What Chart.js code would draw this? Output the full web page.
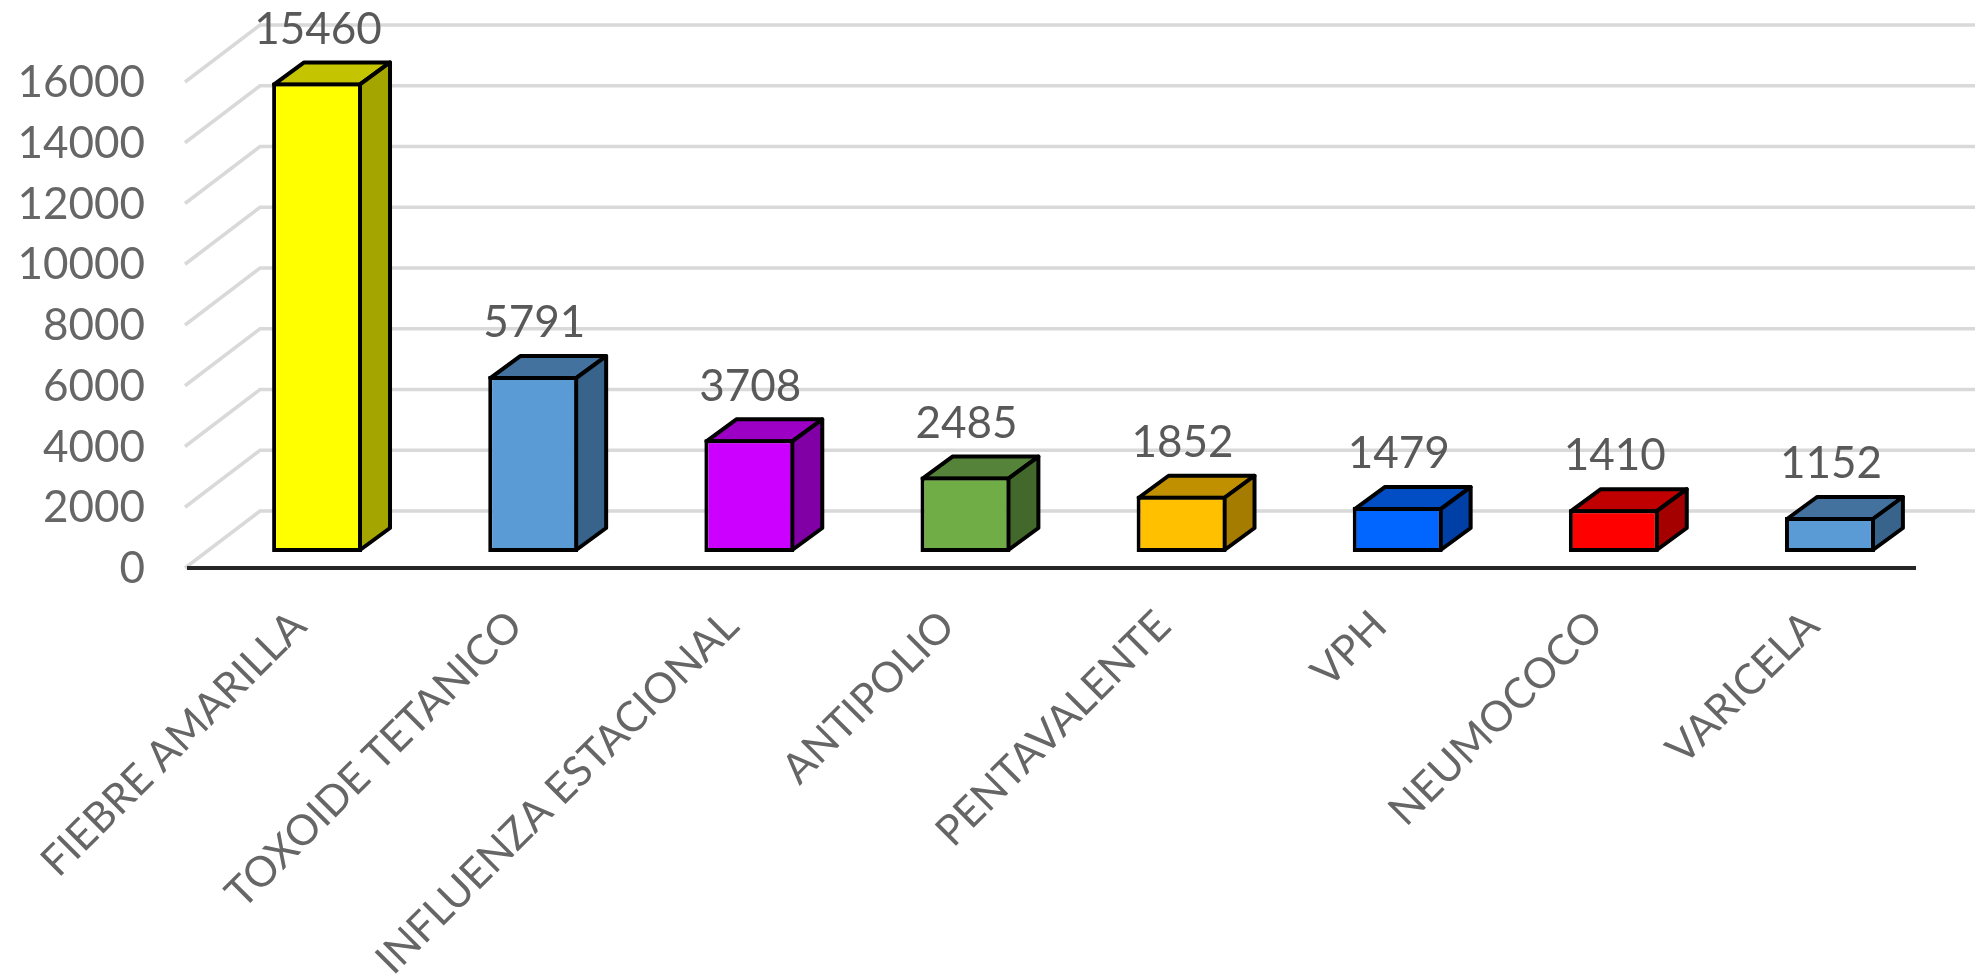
<!DOCTYPE html>
<html>
<head>
<meta charset="utf-8">
<title>Vacunas</title>
<script src="https://cdn.jsdelivr.net/npm/chart.js@4/dist/chart.umd.min.js"></script>
<style>
  html, body { margin: 0; padding: 0; background: #fff; overflow: hidden; }
  canvas { display: block; }
</style>
</head>
<body>
<canvas id="grafico" width="1975" height="978"></canvas>
<script>
const categorias = ['FIEBRE AMARILLA', 'TOXOIDE TETANICO', 'INFLUENZA ESTACIONAL', 'ANTIPOLIO', 'PENTAVALENTE', 'VPH', 'NEUMOCOCO', 'VARICELA'];
const valores = [15460, 5791, 3708, 2485, 1852, 1479, 1410, 1152];
const marcasY = [0, 2000, 4000, 6000, 8000, 10000, 12000, 14000, 16000];

const coresFrente = ['#FFFF00', '#5B9BD5', '#CC00FF', '#70AD47', '#FFC000', '#0066FF', '#FF0000', '#5B9BD5'];
const coresTopo = ['#C4C400', '#44729F', '#9C00C4', '#55833A', '#C09000', '#004DC4', '#C00000', '#44729F'];
const coresLado = ['#A5A500', '#38648C', '#8000A5', '#43682B', '#A67C00', '#003FA5', '#A50000', '#38648C'];

// profundidade das barras e das paredes do grafico (efeito 3D)
const barraDx = 30, barraDy = 22;
const fundoDx = 45, fundoDy = -41;
const frenteDx = -30, frenteDy = 16;

const efeito3D = {
    id: 'efeito3D',
    beforeDatasetsDraw(chart) {
        const ctx = chart.ctx;
        const y = chart.scales.y;
        const esquerda = y.right + frenteDx + 6;
        const xFundo = y.right + fundoDx + 6;

        // linhas de grade
        ctx.save();
        ctx.strokeStyle = '#D9D9D9';
        ctx.lineWidth = 3.5;
        marcasY.forEach(function (m) {
            const py = y.getPixelForValue(m);
            ctx.beginPath();
            ctx.moveTo(esquerda, py + frenteDy);
            ctx.lineTo(xFundo, py + fundoDy);
            ctx.lineTo(chart.width, py + fundoDy);
            ctx.stroke();
        });

        // topo e lado de cada barra
        ctx.strokeStyle = '#000';
        ctx.lineWidth = 4;
        ctx.lineJoin = 'round';
        chart.getDatasetMeta(0).data.forEach(function (barra, i) {
            const e = barra.x - barra.width / 2 + 2;
            const d = barra.x + barra.width / 2 - 2;
            const t = barra.y + 2;
            const b = barra.base - 2;

            ctx.fillStyle = coresTopo[i];
            ctx.beginPath();
            ctx.moveTo(e, t);
            ctx.lineTo(e + barraDx, t - barraDy);
            ctx.lineTo(d + barraDx, t - barraDy);
            ctx.lineTo(d, t);
            ctx.closePath();
            ctx.fill();
            ctx.stroke();

            ctx.fillStyle = coresLado[i];
            ctx.beginPath();
            ctx.moveTo(d, t);
            ctx.lineTo(d + barraDx, t - barraDy);
            ctx.lineTo(d + barraDx, b - barraDy);
            ctx.lineTo(d, b);
            ctx.closePath();
            ctx.fill();
            ctx.stroke();
        });
        ctx.restore();
    },
    afterDatasetsDraw(chart) {
        const ctx = chart.ctx;
        const y = chart.scales.y;
        const base = y.getPixelForValue(0) + frenteDy;

        // eixo preto
        ctx.save();
        ctx.strokeStyle = '#262626';
        ctx.lineWidth = 4;
        ctx.beginPath();
        ctx.moveTo(y.right - 22, base);
        ctx.lineTo(chart.scales.x.right - 22, base);
        ctx.stroke();

        // valores em cima das barras
        ctx.fillStyle = '#595959';
        ctx.font = '44px Lato';
        ctx.textAlign = 'center';
        ctx.textBaseline = 'middle';
        chart.getDatasetMeta(0).data.forEach(function (barra, i) {
            ctx.fillText(valores[i], barra.x + 1, barra.y - 53);
        });
        ctx.restore();
    }
};

new Chart(document.getElementById('grafico'), {
    type: 'bar',
    data: {
        labels: categorias,
        datasets: [{
            data: valores,
            backgroundColor: coresFrente,
            borderColor: '#000',
            borderWidth: 4,
            borderSkipped: false,
            barPercentage: 0.416,
            categoryPercentage: 1
        }]
    },
    options: {
        responsive: false,
        animation: false,
        layout: { padding: { top: 66, right: 37, left: 0, bottom: 0 } },
        plugins: { legend: { display: false }, tooltip: { enabled: false } },
        scales: {
            x: {
                grid: { display: false, drawTicks: false },
                border: { display: false },
                afterFit(escala) { escala.height = 426; },
                ticks: {
                    color: '#666',
                    font: { family: 'Lato', size: 42 },
                    maxRotation: 45,
                    minRotation: 45,
                    autoSkip: false,
                    padding: 49,
                    labelOffset: -18
                }
            },
            y: {
                min: 0,
                max: 16000,
                // o tickLength afasta os rotulos do eixo; ticks.padding aumentaria o topo da escala
                grid: { display: false, drawTicks: true, tickLength: 64 },
                border: { display: false },
                afterFit(escala) { escala.width = 209; },
                afterBuildTicks(escala) {
                    escala.ticks = marcasY.map(function (m) { return { value: m }; });
                },
                ticks: {
                    color: '#666',
                    font: { family: 'Lato', size: 44 },
                    padding: 0,
                    labelOffset: 17,
                    callback: function (v) { return String(v); }
                }
            }
        }
    },
    plugins: [efeito3D]
});
</script>
</body>
</html>
